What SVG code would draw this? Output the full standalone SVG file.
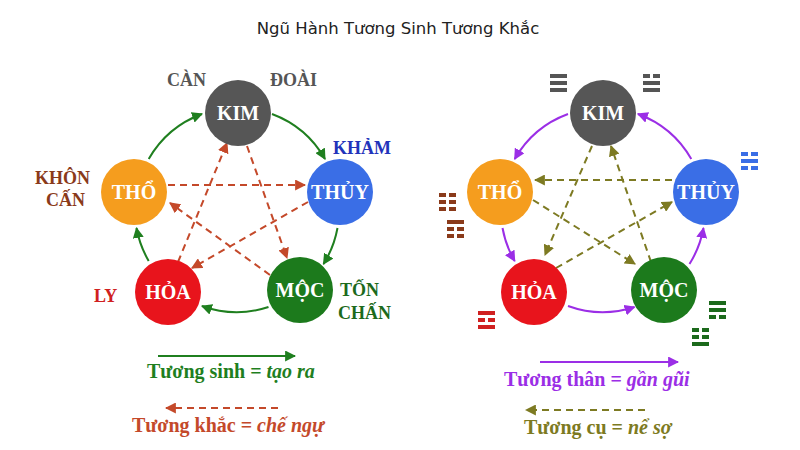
<svg xmlns="http://www.w3.org/2000/svg" width="800" height="450" viewBox="0 0 800 450">
<defs>
<marker id="mg" viewBox="0 0 10 10" refX="9" refY="5" markerWidth="11" markerHeight="11" markerUnits="userSpaceOnUse" orient="auto"><path d="M0,0L10,5L0,10z" fill="#1f7f1f"/></marker>
<marker id="mr" viewBox="0 0 10 10" refX="9" refY="5" markerWidth="11" markerHeight="11" markerUnits="userSpaceOnUse" orient="auto"><path d="M0,0L10,5L0,10z" fill="#c4492a"/></marker>
<marker id="mp" viewBox="0 0 10 10" refX="9" refY="5" markerWidth="11" markerHeight="11" markerUnits="userSpaceOnUse" orient="auto"><path d="M0,0L10,5L0,10z" fill="#9b2ee6"/></marker>
<marker id="mo" viewBox="0 0 10 10" refX="9" refY="5" markerWidth="11" markerHeight="11" markerUnits="userSpaceOnUse" orient="auto"><path d="M0,0L10,5L0,10z" fill="#7d7a22"/></marker>
</defs>
<style>
.nt{font-family:"Liberation Serif",serif;font-weight:bold;font-size:20px;fill:#fff;text-anchor:middle}
.lb{font-family:"Liberation Serif",serif;font-weight:bold;font-size:18px}
.lg{font-family:"Liberation Serif",serif;font-weight:bold;font-size:20px}
.g{fill:none;stroke:#1f7f1f;stroke-width:2;marker-end:url(#mg)}
.r{fill:none;stroke:#c4492a;stroke-width:2;stroke-dasharray:7 5;marker-end:url(#mr)}
.p{fill:none;stroke:#9b2ee6;stroke-width:2;marker-end:url(#mp)}
.o{fill:none;stroke:#7d7a22;stroke-width:2;stroke-dasharray:7 5;marker-end:url(#mo)}
</style>
<rect width="800" height="450" fill="#fff"/>
<text x="398" y="34" text-anchor="middle" font-family="DejaVu Sans,sans-serif" font-size="16.5" fill="#222">Ngũ Hành Tương Sinh Tương Khắc</text>

<g id="connectors">
<path class="g" d="M272,114 A102,102 0 0 1 325,159"/>
<path class="g" d="M337.5,228 A102,102 0 0 1 323.5,264"/>
<path class="g" d="M268.5,307 A102,102 0 0 1 202,306"/>
<path class="g" d="M148.7,261 A102,102 0 0 1 136.5,228"/>
<path class="g" d="M148.7,159 A102,102 0 0 1 202,114"/>
<path class="r" d="M168,185 L305,185"/>
<path class="r" d="M247,146 L287,258"/>
<path class="r" d="M270,275 L170,203"/>
<path class="r" d="M308,202 L192,268"/>
<path class="r" d="M178,262 L227,143"/>

<path class="p" d="M568,114 A102,102 0 0 0 514.7,159"/>
<path class="p" d="M502.5,228 A102,102 0 0 0 514.7,261"/>
<path class="p" d="M568,306 A102,102 0 0 0 634.5,307"/>
<path class="p" d="M689.5,264 A102,102 0 0 0 703.5,228"/>
<path class="p" d="M691.3,159 A102,102 0 0 0 637.9,114"/>
<path class="o" d="M672,180 L535,180"/>
<path class="o" d="M592,146 L545,255"/>
<path class="o" d="M533,200 L635,264"/>
<path class="o" d="M556,268 L672,202"/>
<path class="o" d="M651,262 L611,146"/>

<path d="M158,356 L295,356" fill="none" stroke="#1f7f1f" stroke-width="2" marker-end="url(#mg)"/>
<path d="M278,408 L166,408" fill="none" stroke="#c4492a" stroke-width="2" stroke-dasharray="7 5" marker-end="url(#mr)"/>
<path d="M540,362 L678,362" fill="none" stroke="#9b2ee6" stroke-width="2" marker-end="url(#mp)"/>
<path d="M645,410 L526,410" fill="none" stroke="#7d7a22" stroke-width="2" stroke-dasharray="7 5" marker-end="url(#mo)"/>
</g>

<g id="l-kim"><circle cx="238" cy="113" r="33" fill="#565656"/><text class="nt" x="238" y="120">KIM</text></g>
<g id="l-thuy"><circle cx="340" cy="192" r="33" fill="#3a6ee6"/><text class="nt" x="340" y="199">THỦY</text></g>
<g id="l-moc"><circle cx="300" cy="290" r="33" fill="#1c7a1c"/><text class="nt" x="300" y="297">MỘC</text></g>
<g id="l-hoa"><circle cx="168" cy="292" r="33" fill="#e8141c"/><text class="nt" x="168" y="299">HỎA</text></g>
<g id="l-tho"><circle cx="134" cy="192" r="33" fill="#f59d1e"/><text class="nt" x="134" y="199">THỔ</text></g>

<g id="r-kim"><circle cx="603" cy="113" r="33" fill="#565656"/><text class="nt" x="603" y="120">KIM</text></g>
<g id="r-thuy"><circle cx="706" cy="192" r="33" fill="#3a6ee6"/><text class="nt" x="706" y="199">THỦY</text></g>
<g id="r-moc"><circle cx="664" cy="290" r="33" fill="#1c7a1c"/><text class="nt" x="664" y="297">MỘC</text></g>
<g id="r-hoa"><circle cx="534" cy="292" r="33" fill="#e8141c"/><text class="nt" x="534" y="299">HỎA</text></g>
<g id="r-tho"><circle cx="500" cy="192" r="33" fill="#f59d1e"/><text class="nt" x="500" y="199">THỔ</text></g>

<g id="labels">
<text class="lb" x="167" y="86" fill="#555">CÀN</text>
<text class="lb" x="270" y="86" fill="#555">ĐOÀI</text>
<text class="lb" x="333" y="154" fill="#2233bb">KHẢM</text>
<text class="lb" x="35" y="184" fill="#8a3a1a">KHÔN</text>
<text class="lb" x="46" y="206" fill="#8a3a1a">CẤN</text>
<text class="lb" x="94" y="302" fill="#d02020">LY</text>
<text class="lb" x="340" y="296" fill="#1c6a1c">TỐN</text>
<text class="lb" x="338" y="319" fill="#1c6a1c">CHẤN</text>
</g>

<g id="trigrams">
<g fill="#555"><rect x="550" y="74" width="17" height="4"/><rect x="550" y="81" width="17" height="4"/><rect x="550" y="88" width="17" height="4"/></g>
<g fill="#555"><rect x="643" y="74" width="7" height="4"/><rect x="653" y="74" width="7" height="4"/><rect x="643" y="81" width="17" height="4"/><rect x="643" y="88" width="17" height="4"/></g>
<g fill="#3a6ee6"><rect x="741" y="152" width="7" height="4"/><rect x="751" y="152" width="7" height="4"/><rect x="741" y="159" width="17" height="4"/><rect x="741" y="166" width="7" height="4"/><rect x="751" y="166" width="7" height="4"/></g>
<g fill="#8a3a1a"><rect x="439" y="193" width="7" height="4"/><rect x="449" y="193" width="7" height="4"/><rect x="439" y="200" width="7" height="4"/><rect x="449" y="200" width="7" height="4"/><rect x="439" y="207" width="7" height="4"/><rect x="449" y="207" width="7" height="4"/></g>
<g fill="#8a3a1a"><rect x="447" y="220" width="17" height="4"/><rect x="447" y="227" width="7" height="4"/><rect x="457" y="227" width="7" height="4"/><rect x="447" y="234" width="7" height="4"/><rect x="457" y="234" width="7" height="4"/></g>
<g fill="#d02020"><rect x="478" y="311" width="17" height="4"/><rect x="478" y="318" width="7" height="4"/><rect x="488" y="318" width="7" height="4"/><rect x="478" y="325" width="17" height="4"/></g>
<g fill="#1c6a1c"><rect x="709" y="301" width="17" height="4"/><rect x="709" y="308" width="17" height="4"/><rect x="709" y="315" width="7" height="4"/><rect x="719" y="315" width="7" height="4"/></g>
<g fill="#1c6a1c"><rect x="692" y="328" width="7" height="4"/><rect x="702" y="328" width="7" height="4"/><rect x="692" y="335" width="7" height="4"/><rect x="702" y="335" width="7" height="4"/><rect x="692" y="342" width="17" height="4"/></g>
</g>

<g id="legend">
<text class="lg" x="147" y="378" fill="#1f7f1f">Tương sinh = <tspan font-style="italic">tạo ra</tspan></text>
<text class="lg" x="132" y="432" fill="#c4492a">Tương khắc = <tspan font-style="italic">chế ngự</tspan></text>
<text class="lg" x="504" y="386" fill="#9b2ee6">Tương thân = <tspan font-style="italic">gần gũi</tspan></text>
<text class="lg" x="524" y="434" fill="#7d7a22">Tương cụ = <tspan font-style="italic">nể sợ</tspan></text>
</g>
</svg>
